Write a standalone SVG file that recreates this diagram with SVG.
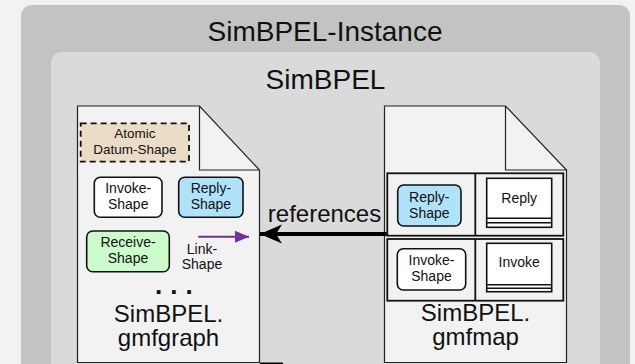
<svg xmlns="http://www.w3.org/2000/svg" width="635" height="364" viewBox="0 0 635 364">
<defs>
<style>
text{font-family:"Liberation Sans",Arial,sans-serif;fill:#111;text-anchor:middle}
.t28{font-size:28px}
.t24{font-size:24px}
.t14{font-size:14px}
.doc{fill:#f2f2f2;stroke:#222;stroke-width:1.2}
.fold{fill:none;stroke:#222;stroke-width:1.2}
.shape{stroke:#111;stroke-width:1.6}
.row{fill:#f2f2f2;stroke:#111;stroke-width:1.8}
.ent{fill:#fff;stroke:#111;stroke-width:1.6}
</style>
<marker id="refHead" markerUnits="userSpaceOnUse" markerWidth="24" markerHeight="22" refX="22" refY="10" orient="auto">
<path d="M22,10 L0,0.5 L6,10 L0,19.5 Z" fill="#000"/>
</marker>
<marker id="linkHead" markerUnits="userSpaceOnUse" markerWidth="16" markerHeight="14" refX="14" refY="6.5" orient="auto">
<path d="M14,6.5 L0,0.5 L0,12.5 Z" fill="#7030a0"/>
</marker>
</defs>
<rect width="635" height="364" fill="#f2f2f2"/>
<g id="instance">
<rect x="21" y="5" width="609" height="380" rx="11" fill="#c3c3c3"/>
<text class="t28" x="325" y="41">SimBPEL-Instance</text>
</g>
<g id="simbpel">
<rect x="51" y="52" width="549" height="330" rx="11" fill="#dadada"/>
<text class="t28" x="325.5" y="88.5">SimBPEL</text>
</g>
<g id="gmfgraph">
<path class="doc" d="M77.5,106 H199.5 L259.5,170 V362.5 H77.5 Z"/>
<path class="fold" d="M199.5,106 V170 H259.5"/>
<text class="t24" x="168.5" y="322">SimBPEL.</text>
<text class="t24" x="168.5" y="346">gmfgraph</text>
<text x="155" y="294" style="font-size:26px;font-weight:bold;text-anchor:start;letter-spacing:8px">...</text>
</g>
<g id="atomic-datum-shape">
<rect x="80.7" y="123.3" width="108.3" height="38.4" fill="#ebdcc8" stroke="#111" stroke-width="1.8" stroke-dasharray="6,4"/>
<text x="134.8" y="137.7" style="font-size:13.5px">Atomic</text>
<text x="134.8" y="154.3" style="font-size:13.5px">Datum-Shape</text>
</g>
<g id="invoke-shape-graph">
<rect class="shape" x="94.3" y="177.3" width="67.7" height="40" rx="6" fill="#fff"/>
<text class="t14" x="128.2" y="193.3">Invoke-</text>
<text class="t14" x="128.2" y="209.3">Shape</text>
</g>
<g id="reply-shape-graph">
<rect class="shape" x="178.7" y="177.3" width="64.3" height="40" rx="6" fill="#b0e3fa"/>
<text class="t14" x="210.9" y="193.3">Reply-</text>
<text class="t14" x="210.9" y="209.3">Shape</text>
</g>
<g id="receive-shape">
<rect class="shape" x="86.7" y="231" width="82.6" height="40.7" rx="6" fill="#ccfccc"/>
<text class="t14" x="128" y="247.3">Receive-</text>
<text class="t14" x="128" y="263.3">Shape</text>
</g>
<g id="link-shape">
<text class="t14" x="202" y="254">Link-</text>
<text class="t14" x="202" y="269.3">Shape</text>
</g>
<g id="gmfmap">
<path class="doc" d="M384.5,106 H505.5 L566.5,170 V362.5 H384.5 Z"/>
<path class="fold" d="M505.5,106 V170 H566.5"/>
<text class="t24" x="475.5" y="321">SimBPEL.</text>
<text class="t24" x="475.5" y="345">gmfmap</text>
</g>
<g id="mapping-reply">
<rect class="row" x="387.3" y="173.3" width="176" height="62.4"/>
<line x1="475.3" y1="173.3" x2="475.3" y2="235.7" stroke="#111" stroke-width="1.8"/>
<rect class="shape" x="397.7" y="185" width="63.3" height="41" rx="6" fill="#b0e3fa"/>
<text class="t14" x="429.3" y="202.3">Reply-</text>
<text class="t14" x="429.3" y="217.7">Shape</text>
<rect class="ent" x="486.7" y="178.3" width="65" height="49"/>
<line x1="486.7" y1="218.3" x2="551.7" y2="218.3" stroke="#111" stroke-width="1.6"/>
<line x1="486.7" y1="222.7" x2="551.7" y2="222.7" stroke="#111" stroke-width="1.6"/>
<text class="t14" x="519.2" y="203.3">Reply</text>
</g>
<g id="mapping-invoke">
<rect class="row" x="387.3" y="239" width="176" height="61.7"/>
<line x1="475.3" y1="239" x2="475.3" y2="300.7" stroke="#111" stroke-width="1.8"/>
<rect class="shape" x="397.3" y="248.7" width="68.4" height="41.3" rx="6" fill="#fff"/>
<text class="t14" x="431.5" y="265">Invoke-</text>
<text class="t14" x="431.5" y="280.7">Shape</text>
<rect class="ent" x="486.7" y="243.3" width="65" height="48.4"/>
<line x1="486.7" y1="284.7" x2="551.7" y2="284.7" stroke="#111" stroke-width="1.6"/>
<line x1="486.7" y1="288.3" x2="551.7" y2="288.3" stroke="#111" stroke-width="1.6"/>
<text class="t14" x="519.2" y="267.3">Invoke</text>
</g>
<g id="connectors">
<line x1="198.3" y1="236.7" x2="249" y2="236.7" stroke="#7030a0" stroke-width="2" marker-end="url(#linkHead)"/>
<line x1="386.7" y1="234" x2="260" y2="234" stroke="#000" stroke-width="4" marker-end="url(#refHead)"/>
<text class="t24" x="324.5" y="221.7">references</text>
<line x1="260" y1="364" x2="283" y2="364" stroke="#000" stroke-width="3"/>
</g>
</svg>
